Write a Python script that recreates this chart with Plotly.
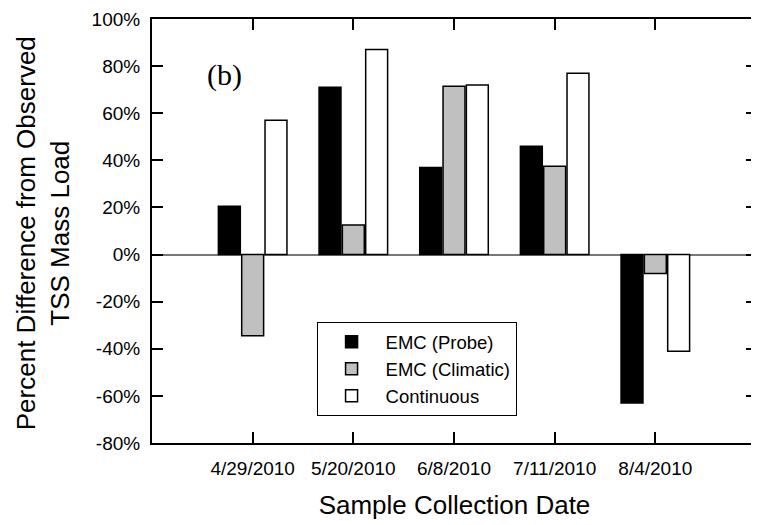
import plotly.graph_objects as go

# Sample dates and percent difference from observed TSS mass load
dates = ['4/29/2010', '5/20/2010', '6/8/2010', '7/11/2010', '8/4/2010']
emc_probe = [20.5, 71, 37, 46, -63]
emc_climatic = [-34.5, 12.5, 71.5, 37.5, -8]
continuous = [57, 87, 72, 77, -41]

y_ticks = [-80, -60, -40, -20, 0, 20, 40, 60, 80, 100]
y_tick_text = [f'{v}%' for v in y_ticks]

series = [
    ('EMC (Probe)', emc_probe, '#000000'),
    ('EMC (Climatic)', emc_climatic, '#c0c0c0'),
    ('Continuous', continuous, '#ffffff'),
]

font = 'Liberation Sans, Arial, sans-serif'

fig = go.Figure()
for name, vals, color in series:
    fig.add_trace(go.Bar(
        x=dates, y=vals, name=name,
        marker=dict(color=color, line=dict(color='#000000', width=1.5)),
    ))

axis_style = dict(
    showline=True, linecolor='#000000', linewidth=2, mirror='ticks',
    ticks='inside', ticklen=11, tickwidth=2, tickcolor='#000000',
    showgrid=False,
)

# page body has an 8px margin, so the figure is sized/offset to suit
fig.update_layout(
    width=751, height=517,
    margin=dict(l=144, r=0, t=11, b=82),
    plot_bgcolor='white', paper_bgcolor='white',
    barmode='group', bargap=0.305, bargroupgap=0.06,
    font=dict(family=font, color='#000000'),
    xaxis=dict(
        range=[-1, 5.01], **axis_style,
        tickfont=dict(size=19), ticklabelstandoff=7,
        title=dict(text='Sample Collection Date', font=dict(size=26), standoff=18),
    ),
    yaxis=dict(
        range=[-80, 100], tickvals=y_ticks, ticktext=y_tick_text, **axis_style,
        tickfont=dict(size=19), ticklabelstandoff=6,
        zeroline=True, zerolinecolor='#777777', zerolinewidth=1.5,
    ),
    legend=dict(
        x=0.272, y=0.285, xanchor='left', yanchor='top',
        bordercolor='#000000', borderwidth=1, bgcolor='white',
        font=dict(size=18.5), itemwidth=58,
    ),
    annotations=[
        dict(text='(b)', x=0.1203, y=0.868, xref='paper', yref='paper',
             xanchor='center', yanchor='middle', showarrow=False,
             font=dict(family='Liberation Serif, Times New Roman, serif', size=30)),
        dict(text='Percent Difference from Observed<br>TSS Mass Load',
             x=-0.18, y=0.495, xref='paper', yref='paper', textangle=-90,
             xanchor='center', yanchor='middle', showarrow=False,
             font=dict(size=26)),
    ],
)

fig.write_html('out.html')
